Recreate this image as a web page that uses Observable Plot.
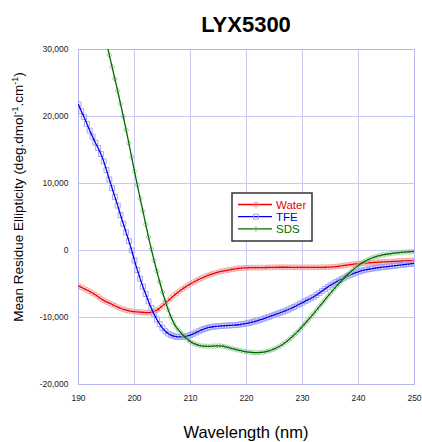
<!DOCTYPE html>
<html>
<head>
<meta charset="utf-8">
<script src="https://cdn.jsdelivr.net/npm/d3@7"></script>
<script src="https://cdn.jsdelivr.net/npm/@observablehq/plot@0.6"></script>
<style>
  body { margin: 0; background: #fff; }
  svg { display: block; }
</style>
</head>
<body>
<div id="chart"></div>
<script>
// CD spectra of LYX5300, sampled every 0.5 nm from 190 to 250 nm
const wavelength = d3.range(190, 250.25, 0.5);

// Mean residue ellipticity in water (190–250 nm)
const water = [
  -5300, -5500, -5700, -5900, -6100, -6350, -6600, -6900, -7200, -7450,
  -7650, -7850, -8050, -8250, -8450, -8620, -8780, -8900, -9000, -9080,
  -9130, -9170, -9200, -9230, -9260, -9280, -9250, -9130, -8900, -8600,
  -8250, -7880, -7500, -7120, -6750, -6400, -6080, -5780, -5500, -5230,
  -4980, -4740, -4510, -4300, -4100, -3920, -3750, -3600, -3460, -3340,
  -3230, -3130, -3040, -2960, -2880, -2800, -2730, -2670, -2630, -2600,
  -2580, -2570, -2560, -2560, -2560, -2560, -2550, -2540, -2530, -2520,
  -2510, -2500, -2500, -2500, -2500, -2500, -2510, -2510, -2520, -2520,
  -2520, -2520, -2520, -2520, -2520, -2520, -2520, -2510, -2500, -2490,
  -2470, -2440, -2400, -2350, -2290, -2230, -2170, -2110, -2060, -2010,
  -1970, -1930, -1890, -1860, -1830, -1800, -1770, -1740, -1720, -1700,
  -1680, -1660, -1640, -1620, -1600, -1580, -1560, -1540, -1520, -1500,
  -1480
];

// Mean residue ellipticity in TFE (190–250 nm)
const tfe = [
  21800, 20800, 19900, 18900, 17900, 17000, 16100, 15300, 14400, 13300,
  12000, 10600, 9300, 8000, 6700, 5300, 4000, 2700, 1400, 0,
  -1500, -2900, -4200, -5400, -6500, -7600, -8600, -9500, -10300, -11000,
  -11600, -12050, -12400, -12620, -12780, -12870, -12900, -12900, -12850, -12750,
  -12600, -12430, -12250, -12050, -11850, -11700, -11560, -11450, -11380, -11330,
  -11290, -11260, -11230, -11200, -11180, -11150, -11120, -11080, -11030, -10960,
  -10880, -10790, -10690, -10580, -10460, -10330, -10190, -10040, -9890, -9730,
  -9600, -9440, -9290, -9140, -8980, -8810, -8620, -8420, -8210, -7990,
  -7770, -7550, -7340, -7130, -6900, -6630, -6340, -6040, -5750, -5460,
  -5190, -4930, -4690, -4460, -4250, -4040, -3840, -3650, -3470, -3310,
  -3170, -3040, -2930, -2840, -2760, -2690, -2630, -2570, -2520, -2470,
  -2420, -2370, -2320, -2270, -2220, -2170, -2120, -2070, -2020, -1970,
  -1920
];

// Mean residue ellipticity in SDS (195–250 nm; shorter wavelengths are off scale)
const sdsStart = 195;
const sds = [
  31000, 29200, 27400, 25600, 23800, 21900, 20000, 18000, 16000, 13900,
  11800, 9800, 7800, 5900, 3900, 2000, 200, -1500, -3100, -4700,
  -6200, -7600, -8800, -9900, -10800, -11500, -12000, -12500, -12900, -13300,
  -13600, -13850, -14000, -14150, -14230, -14280, -14300, -14300, -14280, -14250,
  -14230, -14250, -14320, -14420, -14530, -14650, -14760, -14860, -14950, -15040,
  -15120, -15180, -15220, -15250, -15250, -15220, -15170, -15100, -14990, -14850,
  -14680, -14480, -14250, -13980, -13680, -13350, -13000, -12620, -12220, -11800,
  -11300, -10850, -10380, -9900, -9400, -8900, -8390, -7880, -7370, -6860,
  -6360, -5870, -5390, -4920, -4470, -4040, -3630, -3240, -2880, -2540,
  -2230, -1940, -1680, -1450, -1250, -1080, -940, -820, -720, -630,
  -560, -490, -430, -380, -330, -290, -250, -220, -190, -160,
  -140
];

const xTicks = [190, 200, 210, 220, 230, 240, 250];
const yTicks = [-20000, -10000, 0, 10000, 20000, 30000];

const seriesNames = ["Water", "TFE", "SDS"];
const lineColors = {Water: "#f00000", TFE: "#0000f0", SDS: "#006a00"};
const markerColors = {Water: "#f29c9c", TFE: "#9c9cf2", SDS: "#90c490"};
const markerSymbols = {Water: "circle", TFE: "square", SDS: "diamond2"};
const markerRadius = {Water: 2.5, TFE: 2.8, SDS: 2.3};

const rows = [];
wavelength.forEach((w, i) => rows.push({series: "Water", w, v: water[i]}));
wavelength.forEach((w, i) => rows.push({series: "TFE", w, v: tfe[i]}));
sds.forEach((v, i) => rows.push({series: "SDS", w: sdsStart + i * 0.5, v}));

const fmt = d => d3.format(",")(d).replace("\u2212", "-");
const font = "'Liberation Sans', Arial, Helvetica, sans-serif";

const seriesMarks = seriesNames.flatMap(name => {
  const d = rows.filter(r => r.series === name);
  return [
    Plot.dot(d, {x: "w", y: "v", symbol: markerSymbols[name], r: markerRadius[name],
      fill: "none", stroke: markerColors[name], strokeWidth: 0.9, clip: true}),
    Plot.line(d, {x: "w", y: "v", stroke: lineColors[name], strokeWidth: 1.3, curve: "monotone-x", clip: true})
  ];
});

const chart = Plot.plot({
  width: 422,
  height: 442,
  marginLeft: 78,
  marginRight: 8,
  marginTop: 49,
  marginBottom: 58,
  style: {fontFamily: font, fontSize: "8.5px", color: "#222", background: "#fff"},
  x: {domain: [190, 250], ticks: xTicks, tickFormat: d => String(d), tickSize: 0, tickPadding: 10, label: null},
  y: {domain: [-20000, 30000], ticks: yTicks, tickFormat: fmt, tickSize: 0, tickPadding: 10, label: null},
  marks: [
    Plot.ruleX(xTicks, {stroke: "#c8c8f4", strokeWidth: 1}),
    Plot.ruleY(yTicks, {stroke: "#c8c8f4", strokeWidth: 1}),
    Plot.frame({stroke: "#b8b8f0"}),
    ...seriesMarks
  ]
});

document.getElementById("chart").appendChild(chart);

// Titles, axis labels and legend
const svg = d3.select(chart);
const cx = 246;

svg.append("text")
  .attr("x", cx).attr("y", 32)
  .attr("text-anchor", "middle")
  .attr("font-family", font).attr("font-weight", "bold").attr("font-size", 22)
  .attr("fill", "#000")
  .text("LYX5300");

svg.append("text")
  .attr("x", cx).attr("y", 438)
  .attr("text-anchor", "middle")
  .attr("font-family", font).attr("font-size", 16.5)
  .attr("fill", "#000")
  .text("Wavelength (nm)");

const yLabel = svg.append("text")
  .attr("transform", "translate(23,197) rotate(-90)")
  .attr("text-anchor", "middle")
  .attr("font-family", font).attr("font-size", 13.5)
  .attr("fill", "#000");
yLabel.append("tspan").text("Mean Residue Ellipticity (deg.dmol");
yLabel.append("tspan").attr("dy", -5).attr("font-size", 9).text("-1");
yLabel.append("tspan").attr("dy", 5).text(".cm");
yLabel.append("tspan").attr("dy", -5).attr("font-size", 9).text("-1");
yLabel.append("tspan").attr("dy", 5).text(")");

const legend = svg.append("g").attr("text-anchor", "start");
legend.append("rect")
  .attr("x", 232).attr("y", 193).attr("width", 80).attr("height", 48)
  .attr("fill", "#fff").attr("stroke", "#333").attr("stroke-width", 1.5);

const symbolPaths = {
  circle: d3.symbol(d3.symbolCircle, Math.PI * 2.5 * 2.5)(),
  square: d3.symbol(d3.symbolSquare, Math.PI * 2.8 * 2.8)(),
  diamond2: d3.symbol(d3.symbolDiamond2, Math.PI * 2.3 * 2.3)()
};

seriesNames.forEach((name, i) => {
  const y = 204.5 + i * 12.2;
  legend.append("line")
    .attr("x1", 238).attr("x2", 272).attr("y1", y).attr("y2", y)
    .attr("stroke", lineColors[name]).attr("stroke-width", 1.3);
  legend.append("path")
    .attr("d", symbolPaths[markerSymbols[name]])
    .attr("transform", `translate(256,${y})`)
    .attr("fill", "none").attr("stroke", markerColors[name]).attr("stroke-width", 0.9);
  legend.append("text")
    .attr("x", 276).attr("y", y).attr("dy", "0.36em")
    .attr("text-anchor", "start")
    .attr("font-family", font).attr("font-size", 11.5)
    .attr("fill", lineColors[name])
    .text(name);
});
</script>
</body>
</html>
